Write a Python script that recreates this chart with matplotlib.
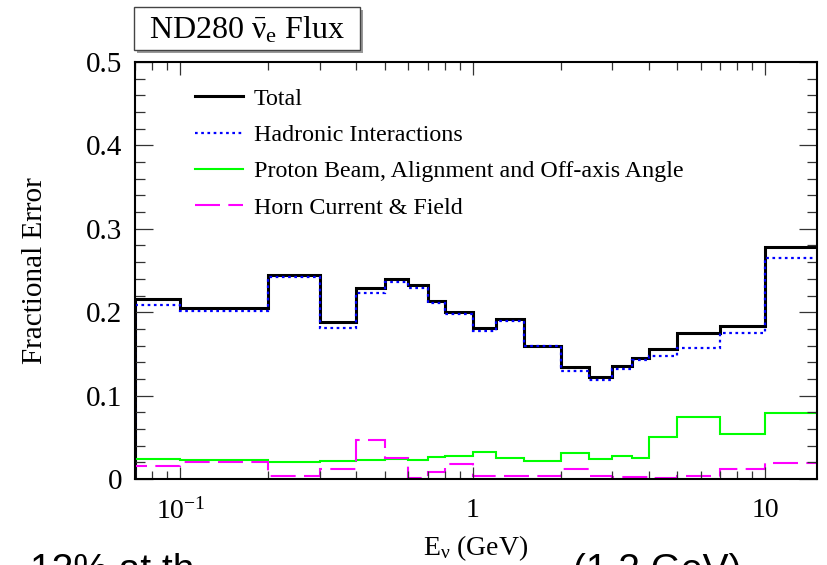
import numpy as np
import matplotlib
matplotlib.use("Agg")
import matplotlib.pyplot as plt
from matplotlib.ticker import FuncFormatter, LogLocator, MultipleLocator, NullFormatter
from matplotlib.patches import Rectangle

plt.rcParams["font.family"] = ["Liberation Serif", "DejaVu Serif"]
plt.rcParams["mathtext.fontset"] = "custom"
plt.rcParams["mathtext.rm"] = "Liberation Serif"
plt.rcParams["mathtext.it"] = "Liberation Serif:italic"

# energy bin edges (GeV); first edge sits on the left axis limit
edges = [0.07, 0.1, 0.2, 0.3, 0.4, 0.5, 0.6, 0.7, 0.8, 1.0, 1.2, 1.5,
         2.0, 2.5, 3.0, 3.5, 4.0, 5.0, 7.0, 10.0, 30.0]

err_total = [0.216, 0.205, 0.245, 0.188, 0.229, 0.240, 0.233, 0.213, 0.200, 0.181,
             0.192, 0.160, 0.134, 0.122, 0.135, 0.145, 0.156, 0.175, 0.183, 0.278]
err_hadronic = [0.209, 0.201, 0.242, 0.181, 0.223, 0.236, 0.229, 0.211, 0.198, 0.177,
                0.189, 0.159, 0.130, 0.119, 0.132, 0.143, 0.147, 0.157, 0.175, 0.265]
err_beam = [0.0236, 0.0228, 0.0208, 0.0210, 0.0228, 0.0236, 0.0228, 0.0260, 0.0270, 0.0328,
            0.0248, 0.0220, 0.0310, 0.0240, 0.0276, 0.0248, 0.0500, 0.0740, 0.0536, 0.0788]
err_horn = [0.0156, 0.0208, 0.0030, 0.0124, 0.0468, 0.0248, 0.0016, 0.0088, 0.0176, 0.0030,
            0.0030, 0.0040, 0.0120, 0.0030, 0.0020, 0.0020, 0.0010, 0.0040, 0.0116, 0.0196]

labels = ["Total", "Hadronic Interactions",
          "Proton Beam, Alignment and Off-axis Angle", "Horn Current & Field"]

W, H = 828, 565
fig = plt.figure(figsize=(W / 100, H / 100), dpi=100)
ax = fig.add_axes([135 / W, 1 - 479 / H, (817 - 135) / W, (479 - 62) / H])

ax.stairs(err_total, edges, baseline=0, color="black", lw=2.2, label=labels[0])
ax.stairs(err_hadronic, edges, baseline=0, color="#0000ff", lw=1.6,
          linestyle=(0, (1.2, 1.6)), label=labels[1])
ax.stairs(err_beam, edges, baseline=0, color="#00ff00", lw=1.5, label=labels[2])
ax.stairs(err_horn, edges, baseline=0, color="#ff00ff", lw=1.5,
          linestyle=(0, (12, 4)), label=labels[3])

ax.set_xscale("log")
ax.set_xlim(0.07, 15)
ax.set_ylim(0, 0.5)

ax.set_xticks([0.1, 1, 10])
ax.set_xticklabels([r"10$^{-1}$", "1", "10"])
ax.xaxis.set_minor_locator(LogLocator(base=10, subs=np.arange(2, 10)))
ax.xaxis.set_minor_formatter(NullFormatter())
ax.yaxis.set_major_locator(MultipleLocator(0.1))
ax.yaxis.set_minor_locator(MultipleLocator(0.02))
ax.yaxis.set_major_formatter(FuncFormatter(lambda v, _: "0" if abs(v) < 1e-9 else f"{v:.1f}"))

ax.tick_params(which="both", direction="in", top=True, right=True, width=0.9, color="#333333")
ax.tick_params(axis="x", which="major", length=9, pad=14, labelsize=20)
ax.tick_params(axis="x", which="minor", length=5.5)
ax.tick_params(axis="y", which="major", length=13, pad=9, labelsize=21)
ax.tick_params(axis="y", which="minor", length=7)
for sp in ax.spines.values():
    sp.set_linewidth(1.5)

ax.set_xlabel(r"E$_{\mathrm{ν}}$ (GeV)", fontsize=20)
ax.xaxis.set_label_coords(0.5, -0.13)
ax.set_ylabel("Fractional Error", fontsize=21)
ax.yaxis.set_label_coords(-0.128, 0.5)

ax.legend(loc="upper left", bbox_to_anchor=((195 - 135) / 682, (479 - 88) / 417),
          frameon=False, fontsize=17.3, handlelength=2.0, handletextpad=0.45,
          labelspacing=0.6, borderpad=0, borderaxespad=0)

# title box with drop shadow
bx0, by0, bx1, by1 = 134, 7, 360, 50
fig.patches.append(Rectangle(((bx0 + 3) / W, 1 - (by1 + 3) / H), (bx1 - bx0) / W, (by1 - by0) / H,
                             transform=fig.transFigure, facecolor="#999999", edgecolor="none"))
fig.patches.append(Rectangle((bx0 / W, 1 - by1 / H), (bx1 - bx0) / W, (by1 - by0) / H,
                             transform=fig.transFigure, facecolor="white", edgecolor="#444444", lw=1.0))
fig.text((bx0 + bx1) / 2 / W, 1 - 30 / H, r"ND280 $\bar{\mathrm{ν}}_{\mathrm{e}}$ Flux",
         ha="center", va="center", fontsize=23)

# slide text running beneath the figure
fig.text(30 / W, 1 - 553 / H, "12% at th", ha="left", va="top", fontsize=28,
         family=["Liberation Sans", "DejaVu Sans"])
fig.text(573 / W, 1 - 553 / H, "(1.2 GeV)", ha="left", va="top", fontsize=28,
         family=["Liberation Sans", "DejaVu Sans"])

fig.savefig("out.png", dpi=100)
